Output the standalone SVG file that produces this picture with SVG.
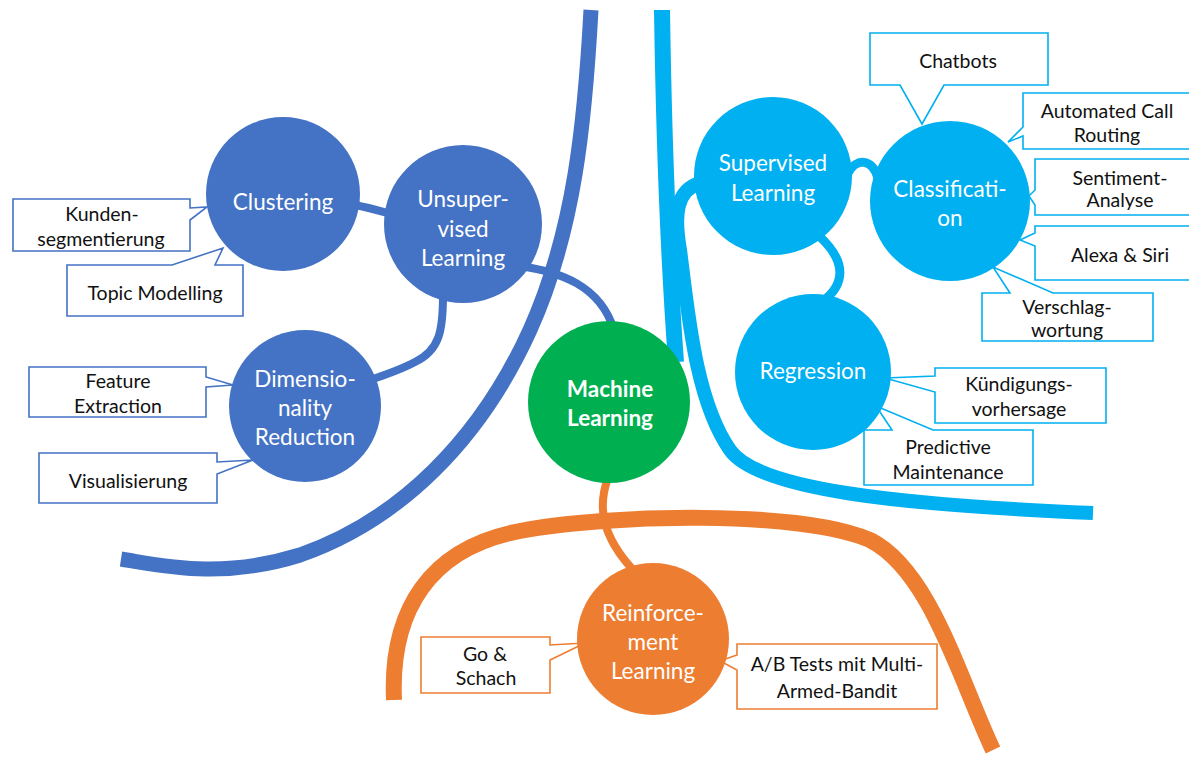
<svg xmlns="http://www.w3.org/2000/svg" width="1189" height="759" viewBox="0 0 1189 759">
  <style>
    .bg { fill: #ffffff; }
    .edge { fill: none; stroke-linecap: butt; }
    .blue { stroke: #4472C4; }
    .cyan { stroke: #00B0F0; }
    .orange { stroke: #ED7D31; }
    .thick { stroke-width: 15; }
    .thin { stroke-width: 8; }
    .call { fill: #ffffff; stroke-width: 1.6; stroke-linejoin: miter; }
    .call.blue { stroke: #4472C4; }
    .call.cyan { stroke: #00B0F0; }
    .call.orange { stroke: #ED7D31; }
    .node-blue { fill: #4472C4; }
    .node-cyan { fill: #00B0F0; }
    .node-green { fill: #00B050; }
    .node-orange { fill: #ED7D31; }
    .lbl { font-family: Lato, "Liberation Sans", sans-serif; font-size: 22.5px; fill: #ffffff; text-anchor: middle; dominant-baseline: central; }
    .lbl.bold { font-weight: bold; }
    .note { font-family: Lato, "Liberation Sans", sans-serif; font-size: 19.5px; fill: #111111; text-anchor: middle; dominant-baseline: central; }
  </style>

  <rect class="bg" x="0" y="0" width="1189" height="759"/>

  <g id="connectors">
    <!-- large boundary arcs -->
    <path class="edge blue thick" d="M591,10 C585,120 575,230 530,330 C480,440 400,520 300,555 C220,580 160,565 121,559"/>
    <path class="edge cyan" stroke-width="16" d="M662,10 C664,150 670,280 676,362"/>
    <path class="edge cyan" stroke-width="14" d="M700,183 C676,190 674,215 680,250 C688,310 695,400 730,450 C758,490 900,505 1093,513"/>
    <path class="edge orange" stroke-width="16" d="M394,700 C390,610 430,548 520,531 C610,514 800,510 870,540 C930,570 960,680 993,750" stroke-linecap="round"/>
    <!-- branch links -->
    <path class="edge blue thin" d="M355,205 C370,208 380,211 395,215"/>
    <path class="edge blue thin" d="M443,295 C443,330 440,350 415,362 C400,370 385,375 370,380"/>
    <path class="edge blue thin" d="M520,266 C560,272 600,285 614,330"/>
    <path class="edge cyan" stroke-width="9" d="M848,173 C856,158 872,158 878,178"/>
    <path class="edge cyan" stroke-width="9" d="M818,235 C848,262 845,285 822,302"/>
    <path class="edge orange thin" d="M608,478 C598,505 600,535 635,572"/>
  </g>

  <g id="callouts">
    <g id="c-kunden"><path class="call blue" d="M13,199 H190 V208 L207,207 L190,220 V251 H13 Z"/>
      <text class="note" x="102" y="213">Kunden-</text><text class="note" x="101" y="238">segmentierung</text></g>
    <g id="c-topic"><path class="call blue" d="M67,265 H172 L223,248 L215,265 H243 V316 H67 Z"/>
      <text class="note" x="155" y="292">Topic Modelling</text></g>
    <g id="c-feature"><path class="call blue" d="M29,367 H206 V377 L233,385 L206,387 V417 H29 Z"/>
      <text class="note" x="118" y="380">Feature</text><text class="note" x="118" y="405">Extraction</text></g>
    <g id="c-visual"><path class="call blue" d="M39,453 H217 V462 L253,460 L217,474 V503 H39 Z"/>
      <text class="note" x="128" y="480">Visualisierung</text></g>

    <g id="c-chatbots"><path class="call cyan" d="M870,33 H1048 V85 H944 L922,124 L900,85 H870 Z"/>
      <text class="note" x="958" y="60">Chatbots</text></g>
    <g id="c-routing"><path class="call cyan" d="M1023,93 H1195 V149 H1023 V136 L1008,142 L1023,127 Z"/>
      <text class="note" x="1107" y="110">Automated Call</text><text class="note" x="1107" y="134">Routing</text></g>
    <g id="c-sentiment"><path class="call cyan" d="M1035,159 H1195 V215 H1035 V205 L1029,196 L1035,190 Z"/>
      <text class="note" x="1120" y="177">Sentiment-</text><text class="note" x="1120" y="199">Analyse</text></g>
    <g id="c-alexa"><path class="call cyan" d="M1035,226 H1195 V280 H1035 V246 L1020,240 L1035,233 Z"/>
      <text class="note" x="1120" y="254">Alexa &amp; Siri</text></g>
    <g id="c-verschlag"><path class="call cyan" d="M982,293 H1010 L993,267 L1053,293 H1153 V341 H982 Z"/>
      <text class="note" x="1067" y="306">Verschlag-</text><text class="note" x="1067" y="329">wortung</text></g>
    <g id="c-kuendigung"><path class="call cyan" d="M935,368 H1106 V423 H935 V392 L885,378 L935,376 Z"/>
      <text class="note" x="1019" y="383">Kündigungs-</text><text class="note" x="1019" y="408">vorhersage</text></g>
    <g id="c-predictive"><path class="call cyan" d="M864,430 H892 L876,406 L933,430 H1033 V485 H864 Z"/>
      <text class="note" x="948" y="446">Predictive</text><text class="note" x="948" y="471">Maintenance</text></g>

    <g id="c-go"><path class="call orange" d="M421,637 H550 V645 L585,643 L550,660 V693 H421 Z"/>
      <text class="note" x="485" y="653">Go &amp;</text><text class="note" x="486" y="677">Schach</text></g>
    <g id="c-ab"><path class="call orange" d="M737,644 H937 V709 H737 V670 L720,661 L737,655 Z"/>
      <text class="note" x="837" y="663">A/B Tests mit Multi-</text><text class="note" x="837" y="690">Armed-Bandit</text></g>
  </g>

  <g id="n-clustering"><circle class="node-blue" cx="283" cy="194" r="77"/>
    <text class="lbl" x="283" y="201">Clustering</text></g>
  <g id="n-unsupervised"><circle class="node-blue" cx="463" cy="224" r="79"/>
    <text class="lbl" x="463" y="198">Unsuper-</text><text class="lbl" x="463" y="228">vised</text><text class="lbl" x="463" y="257">Learning</text></g>
  <g id="n-dimensionality"><circle class="node-blue" cx="305" cy="406" r="76"/>
    <text class="lbl" x="305" y="378">Dimensio-</text><text class="lbl" x="305" y="407">nality</text><text class="lbl" x="305" y="436">Reduction</text></g>
  <g id="n-ml"><circle class="node-green" cx="609" cy="402" r="81"/>
    <text class="lbl bold" x="610" y="388">Machine</text><text class="lbl bold" x="610" y="417">Learning</text></g>
  <g id="n-supervised"><circle class="node-cyan" cx="773" cy="176" r="79"/>
    <text class="lbl" x="773" y="162">Supervised</text><text class="lbl" x="773" y="192">Learning</text></g>
  <g id="n-classification"><circle class="node-cyan" cx="950" cy="201" r="80"/>
    <text class="lbl" x="950" y="188">Classificati-</text><text class="lbl" x="950" y="217">on</text></g>
  <g id="n-regression"><circle class="node-cyan" cx="813" cy="372" r="78"/>
    <text class="lbl" x="813" y="370">Regression</text></g>
  <g id="n-reinforcement"><circle class="node-orange" cx="653" cy="639" r="76"/>
    <text class="lbl" x="653" y="612">Reinforce-</text><text class="lbl" x="653" y="641">ment</text><text class="lbl" x="653" y="670">Learning</text></g>
</svg>
